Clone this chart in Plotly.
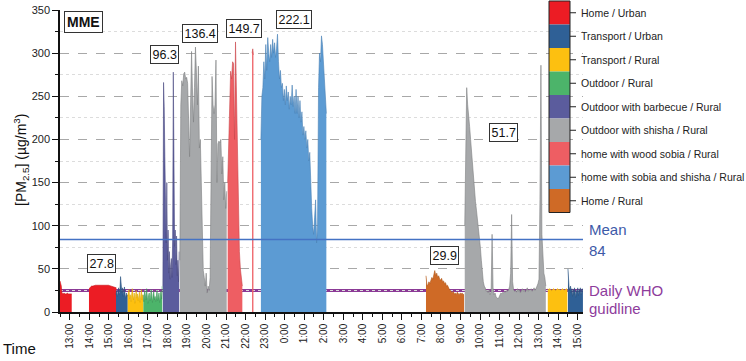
import plotly.graph_objects as go

# ---------------- data ----------------
CATEGORIES = [
    "Home / Urban", "Transport / Urban", "Transport / Rural", "Outdoor / Rural",
    "Outdoor with barbecue / Rural", "Outdoor with shisha / Rural",
    "home with wood sobia / Rural", "home with sobia and shisha / Rural", "Home / Rural",
]
COLORS = ["#ec1c24", "#2f6096", "#fdc010", "#4cb46a", "#5b5c9d", "#a6a8aa",
          "#ee5e63", "#5c9bd3", "#cf6a26"]
LINE_COLORS = ["#c8161d", "#28507d", "#e0a800", "#3d9657", "#4a4a82", "#7e8082",
               "#c9474c", "#4a82b5", "#b05818"]

X_TICK_VALUES = list(range(13, 40))
X_TICK_LABELS = ["13:00", "14:00", "15:00", "16:00", "17:00", "18:00", "19:00", "20:00",
                 "21:00", "22:00", "23:00", "0:00", "1:00", "2:00", "3:00", "4:00",
                 "5:00", "6:00", "7:00", "8:00", "9:00", "10:00", "11:00", "12:00",
                 "13:00", "14:00", "15:00"]

MEAN_VALUE = 84
WHO_GUIDELINE = 25

# each segment: category index, day (0/1), start "HH:MM", step minutes, values
home_urban_1 = [36, 33, 30, 22, 21, 21, 22, 21, 21, 21, 21, 22, 21, 21, 21, 21, 21, 21, 21]
home_urban_2 = [27, 29, 30, 30, 31, 31, 31, 31, 31.5, 31.5, 31.5, 31, 31, 31, 31, 31,
                30.5, 30, 30, 29, 29, 28]
transport_urban_1 = [20, 25, 18, 22, 28, 20, 24, 41, 30, 22, 28, 18, 25, 29, 20, 16, 22, 18, 20]
transport_rural_1 = [18, 22, 26, 15, 20, 12, 24, 27, 19, 14, 22, 10, 18, 25, 16, 21, 13, 19,
                     23, 11, 17, 26, 14, 20, 12]
outdoor_rural = [20, 12, 25, 18, 14, 27, 16, 10, 19, 22, 13, 17, 26, 15, 11, 20, 24, 14, 18,
                 12, 21, 25, 13, 16, 22, 11, 18, 24, 15, 30]
barbecue = [30, 266, 238, 180, 120, 80, 150, 60, 95, 45, 70, 38, 55, 62, 40, 85, 278, 200,
            76, 95, 55, 88, 42, 60, 35, 70]
shisha_1 = [60, 240, 268, 262, 276, 278, 270, 272, 265, 230, 180, 240, 302, 255, 220, 260,
            307, 278, 240, 285, 190, 200, 150, 80, 48, 40, 30, 45, 22, 30, 25, 40, 220, 273,
            240, 230, 240, 292, 150, 195, 198, 196, 200, 160, 180, 130, 150, 120, 140]
wood_sobia_1 = [150, 200, 260, 279, 270, 290, 288, 200, 313, 250, 160, 110, 70, 50, 40, 30]
wood_sobia_2 = [300, 305, 298]
sobia_shisha = [200, 250, 260, 290, 270, 310, 280, 318, 300, 290, 310, 295, 316, 300, 312,
                295, 305, 322, 290, 270, 280, 260, 265, 245, 258, 240, 262, 245, 255, 235,
                250, 240, 263, 238, 250, 230, 258, 230, 250, 225, 245, 220, 232, 205, 215,
                200, 210, 190, 200, 175, 185, 140, 120, 100, 90, 110, 130, 80, 100, 260,
                300, 290, 320, 310, 290, 270, 250, 230]
home_rural = [42, 30, 32, 35, 33, 37, 40, 38, 44, 48, 42, 45, 40, 42, 38, 37, 39, 35, 36, 33,
              34, 30, 31, 28, 26, 25, 24, 22, 24, 21, 22, 20, 23, 21, 20, 22, 21, 22, 20, 21]
shisha_2 = [100, 200, 260, 240, 230, 215, 200, 185, 165, 150, 140, 128, 118, 107, 100, 92,
            75, 60, 45, 35, 30, 28, 24, 25, 22, 26, 20, 24, 90, 28, 20, 22, 18, 16, 15, 17,
            20, 22, 21, 23, 22, 24, 23, 25, 24, 26, 30, 45, 113, 35, 26, 24, 25, 23, 27, 24,
            26, 22, 25, 27, 24, 26, 23, 25, 28, 24, 26, 25, 27, 24, 26, 28, 25, 27, 30, 33,
            38, 130, 286, 90, 60, 45, 40, 30]
transport_rural_2 = [27, 26, 27, 26, 25, 26, 27, 26, 25, 26, 27, 26, 26, 25, 26, 27, 26, 25,
                     26, 27, 26]
transport_urban_2 = [50, 30, 25, 28, 30, 22, 27, 18, 26, 20, 28, 24, 17, 25, 22, 28, 19, 26,
                     23, 28, 20, 25, 27, 22]

SEGMENTS = [
    (0, 0, "12:30", 2, home_urban_1),
    (0, 0, "13:59", 4, home_urban_2),
    (1, 0, "15:22", 2, transport_urban_1),
    (2, 0, "15:58", 2, transport_rural_1),
    (3, 0, "16:46", 2, outdoor_rural),
    (4, 0, "17:46", 2, barbecue),
    (5, 0, "18:38", 3, shisha_1),
    (6, 0, "21:05", 3, wood_sobia_1),
    (6, 0, "22:20", 2, wood_sobia_2),
    (7, 0, "22:47", 3, sobia_shisha),
    (8, 1, "07:14", 3, home_rural),
    (5, 1, "09:13", 3, shisha_2),
    (2, 1, "13:28", 3, transport_rural_2),
    (1, 1, "14:30", 2, transport_urban_2),
]

VALUE_LABELS = ["27.8", "96.3", "136.4", "149.7", "222.1", "51.7", "29.9"]

# ---------------- figure ----------------
L, R, T, B = 60, 583, 10, 312


def px(x):
    return (x - L) / (R - L)


def py(y):
    return (B - y) / (B - T)


fig = go.Figure()

for cat, day, start, step, vals in SEGMENTS:
    h, m = map(int, start.split(":"))
    t0 = 24 * day + h + m / 60
    xs = [t0 + i * step / 60 for i in range(len(vals))]
    fig.add_trace(go.Scatter(
        x=xs, y=vals, mode="lines", fill="tozeroy",
        fillcolor=COLORS[cat], line=dict(color=LINE_COLORS[cat], width=0.6),
        showlegend=False, hoverinfo="skip"))

shapes = [
    dict(type="line", xref="paper", x0=0, x1=1, yref="y", y0=WHO_GUIDELINE, y1=WHO_GUIDELINE,
         line=dict(color="#8b3a96", width=3), layer="between"),
    dict(type="line", xref="paper", x0=0, x1=1, yref="y", y0=MEAN_VALUE, y1=MEAN_VALUE,
         line=dict(color="#4472c4", width=1.3), layer="above"),
]


def note(x, y, text, size, color="#111", xanchor="center", **kw):
    return dict(x=px(x), y=py(y), xref="paper", yref="paper", text=text, showarrow=False,
                xanchor=xanchor, yanchor="middle", font=dict(size=size, color=color), **kw)


annotations = []
# legend (colour key)
seg_h = 23.5
top0 = 1.0
for i, (name, col) in enumerate(zip(CATEGORIES, COLORS)):
    y0 = top0 + i * seg_h
    shapes.append(dict(type="rect", xref="paper", yref="paper",
                       x0=px(549), x1=px(570), y0=py(y0 + seg_h), y1=py(y0),
                       fillcolor=col, line=dict(width=0), layer="above"))
    yc = y0 + seg_h / 2
    shapes.append(dict(type="line", xref="paper", yref="paper",
                       x0=px(570), x1=px(576), y0=py(yc), y1=py(yc),
                       line=dict(color="#222", width=1), layer="above"))
    annotations.append(note(579, yc, name, 10.5, "#222", xanchor="left"))
shapes.append(dict(type="rect", xref="paper", yref="paper",
                   x0=px(549), x1=px(570), y0=py(top0 + 9 * seg_h), y1=py(top0),
                   line=dict(color="#222", width=1), fillcolor="rgba(0,0,0,0)", layer="above"))

# value boxes
label_pos = [(101, 263), (164, 55), (200, 34), (244, 29), (294, 19), (503, 132), (444, 256)]
for txt, (x, y) in zip(VALUE_LABELS, label_pos):
    annotations.append(note(x, y, txt, 12.5, bordercolor="#333", borderwidth=1,
                            borderpad=1.5, bgcolor="white"))

annotations += [
    note(83, 22, "<b>MME</b>", 14, bordercolor="#333", borderwidth=1, borderpad=2,
         bgcolor="white"),
    note(587, 230, "Mean", 15, "#3d5aa8", xanchor="left"),
    note(587, 250, str(MEAN_VALUE), 15, "#3d5aa8", xanchor="left"),
    note(587, 290, "Daily WHO", 15, "#8e3c9c", xanchor="left"),
    note(587, 308, "guidline", 15, "#8e3c9c", xanchor="left"),
    note(1, 348, "Time", 15, xanchor="left"),
    note(21, 160, "[PM<sub>2.5</sub>] (µg/m<sup>3</sup>)", 14, textangle=-90),
]

fig.update_layout(
    width=746, height=361,
    margin=dict(l=L, r=746 - R, t=T, b=361 - B, autoexpand=False),
    paper_bgcolor="white", plot_bgcolor="white",
    font=dict(family="Liberation Sans, Arial, sans-serif", color="#222"),
    shapes=shapes, annotations=annotations, showlegend=False,
    xaxis=dict(range=[12.5, 39.27], tickmode="array", tickvals=X_TICK_VALUES,
               ticktext=X_TICK_LABELS, tickangle=-90, tickfont=dict(size=10),
               ticks="outside", ticklen=6, tickwidth=1.2, tickcolor="#111",
               showline=True, linecolor="#111", linewidth=1.5, showgrid=False,
               zeroline=False, automargin=False,
               minor=dict(tickmode="linear", tick0=12.5, dtick=1, ticks="outside",
                          ticklen=3.5, tickwidth=1.2, tickcolor="#111", showgrid=False)),
    yaxis=dict(range=[0, 350], tickmode="linear", tick0=0, dtick=50,
               tickfont=dict(size=11), ticks="outside", ticklen=6, tickwidth=1.2,
               tickcolor="#111", showline=True, linecolor="#111", linewidth=1.5,
               showgrid=True, gridcolor="#a8a8a8", griddash="dash", gridwidth=1,
               zeroline=False, automargin=False,
               minor=dict(tickmode="linear", tick0=25, dtick=50, ticks="outside",
                          ticklen=3.5, tickwidth=1.2, tickcolor="#111", showgrid=True,
                          gridcolor="#dcdcdc", griddash="dot", gridwidth=1)),
)

fig.write_html("out.html", config={"displayModeBar": False},
               post_script="document.body.style.margin='0px';"
                           "document.body.style.overflow='hidden';")
